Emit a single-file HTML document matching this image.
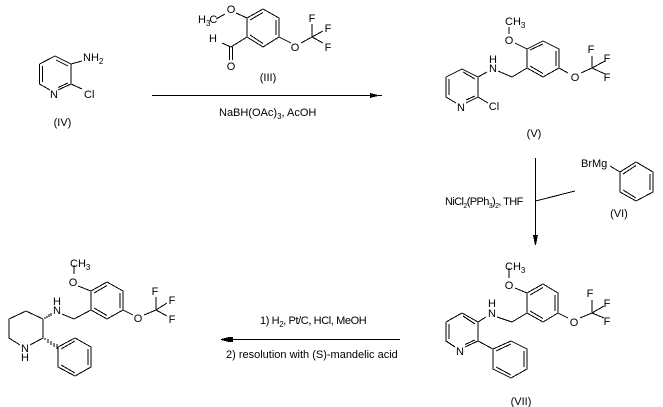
<!DOCTYPE html>
<html><head><meta charset="utf-8"><style>
html,body{margin:0;padding:0;background:#fff;width:663px;height:407px;overflow:hidden}
svg{display:block}
text{font-family:"Liberation Sans",Arial,sans-serif;font-size:11px;fill:#000}
.s{font-size:8px}
.n{letter-spacing:-.6px}
.m{letter-spacing:-.4px}
path{fill:none;stroke:#000;stroke-width:1;shape-rendering:crispEdges}
.h{fill:#000;stroke:none}
</style></head><body>
<svg width="663" height="407" viewBox="0 0 663 407" xmlns="http://www.w3.org/2000/svg">
<!-- IV -->
<path d="M39.5 64L55 56L71 64L71 84L58 90M50 90L39.5 84L39.5 64M42.5 66L42.5 82M56 60L68 66M68 83L58 87.5M71 64L82 61M71 84L82 89"/>
<text x="54" y="98" text-anchor="middle">N</text>
<text x="83" y="61">NH<tspan class="s" dy="3">2</tspan></text>
<text x="84" y="98">Cl</text>
<text x="62.500" y="126" text-anchor="middle">(IV)</text>
<!-- III -->
<path d="M247 18L263 9L279 18L279 37L263 47L247 37L247 18M250 20L263 12.500M276 20L276 35M250 35L263 43.500M236 13L247 18M225 14L216 19M247 37L231 47L222 43M229.500 47L229.500 60M232.500 47L232.500 60M279 37L291 43M301 43L312 37M312 37L312 24M312 37L323 31M312 37L323 43"/>
<text x="231" y="13" text-anchor="middle">O</text>
<text x="198" y="23">H<tspan class="s" dy="3">3</tspan><tspan dy="-3" dx="-1">C</tspan></text>
<text x="213" y="42" text-anchor="middle">H</text>
<text x="231" y="70" text-anchor="middle">O</text>
<text x="295" y="51" text-anchor="middle">O</text>
<text x="312" y="22" text-anchor="middle">F</text>
<text x="328" y="32" text-anchor="middle">F</text>
<text x="328" y="51" text-anchor="middle">F</text>
<text x="268" y="81" text-anchor="middle">(III)</text>
<!-- arrow 1 -->
<path d="M152 95.500L382 95.500"/>
<path class="h" d="M370 93L378 95L382 95.500L378 96L370 98Z"/>
<text x="219" y="116">NaBH(OAc)<tspan class="s" dy="3">3</tspan><tspan dy="-3">, AcOH</tspan></text>
<!-- V -->
<path d="M446 77L462 69L478 77L478 97L466 103M456 103L446 97L446 77M449 79L449 95M463 72L475 79M475 96L466 100M478 77L487 72M478 97L488 103M498 71L512 77L527 68L527 49L543 41L559 49L559 68L543 77L527 68M530 50L543 44M556 51L556 66M530 66L543 73.500M515 43L527 49M509 27L509 34M559 68L568 73M581 73L592 68M592 68L592 56M592 68L605 61M592 68L605 74"/>
<text x="461" y="111" text-anchor="middle">N</text>
<text x="493" y="72" text-anchor="middle">N</text>
<text x="493" y="63" text-anchor="middle">H</text>
<text x="494" y="110" text-anchor="middle">Cl</text>
<text x="509" y="44" text-anchor="middle">O</text>
<text x="505" y="25">CH<tspan class="s" dy="3">3</tspan></text>
<text x="575" y="81" text-anchor="middle">O</text>
<text x="591" y="53" text-anchor="middle">F</text>
<text x="607" y="62" text-anchor="middle">F</text>
<text x="607" y="81" text-anchor="middle">F</text>
<text x="534" y="137" text-anchor="middle">(V)</text>
<!-- arrow 2 -->
<path d="M535.500 158L535.500 245M535.500 201L575 191"/>
<path class="h" d="M533 235L538 235L536 245L535 245Z"/>
<text x="445" y="205" class="n">NiCl<tspan style="font-size:7px" dy="3">2</tspan><tspan dy="-3">(PPh</tspan><tspan style="font-size:7px" dy="3">3</tspan><tspan dy="-3">)</tspan><tspan style="font-size:7px" dy="3">2</tspan><tspan dy="-3">, THF</tspan></text>
<!-- VI -->
<path d="M610 166L620 172L636 162L653 172L653 192L636 201L620 192L620 172M623 174L636 165.500M650 174L650 190M623 190L636 198"/>
<text x="581" y="167">BrMg</text>
<text x="619" y="217" text-anchor="middle">(VI)</text>
<!-- VII -->
<path d="M446 322L462 313L478 322L478 341L465 347M455 347L446 341L446 322M449 324L449 339M463 316L475 324M475 340L465 344.500M478 322L486 317M497 317L512 322L527 313L527 293L543 284L558 293L558 313L543 322L527 313M530 295L543 287.500M555 295L555 311M530 311L543 318.500M515 288L527 293M509 268L509 278M558 313L568 318M580 318L592 313M592 313L592 300M592 313L604 306M592 313L604 318M478 341L493 349L511 341L527 349L527 369L511 378L493 369L493 349M496 351L511 344M524 351L524 367M496 367L511 375"/>
<text x="460" y="355" text-anchor="middle">N</text>
<text x="492" y="317" text-anchor="middle">N</text>
<text x="492" y="307" text-anchor="middle">H</text>
<text x="509" y="289" text-anchor="middle">O</text>
<text x="505" y="270">CH<tspan class="s" dy="3">3</tspan></text>
<text x="574" y="326" text-anchor="middle">O</text>
<text x="590" y="297" text-anchor="middle">F</text>
<text x="607" y="307" text-anchor="middle">F</text>
<text x="607" y="325" text-anchor="middle">F</text>
<text x="521" y="405" text-anchor="middle">(VII)</text>
<!-- arrow 3 -->
<path d="M221 339.500L400 339.500"/>
<path class="h" d="M221 339L229 337L233 337L233 342L229 342L221 340Z"/>
<text x="260" y="324" class="m">1) H<tspan class="s" dy="3">2</tspan><tspan dy="-3">, Pt/C, HCl, MeOH</tspan></text>
<text x="226" y="358">2) resolution with (S)-mandelic acid</text>
<!-- product -->
<path d="M43 319L26 311L9 319L9 338L20 345M30 345L43 338L43 319M62 314L74 319L91 310L91 291L107 282L123 291L123 310L107 319L91 310M94 293L107 285.500M120 293L120 308M94 308L107 315.500M78 286L91 291M74 265L74 274M123 310L133 315M144 315L156 310M156 310L156 297M156 310L167 303M156 310L167 316M58 347L75 338L91 347L91 367L75 376L58 367L58 347M61 349L75 341M88 349L88 365M61 365L75 373"/>
<path d="M45 319L45 317M47 318L47 316M49 317L49 314M51 316L51 313" />
<path d="M45 338L45 340M48 339L48 343M51 341L51 345M54 343L54 347M57 344L57 349" />
<text x="25" y="352" text-anchor="middle">N</text>
<text x="25" y="361" text-anchor="middle">H</text>
<text x="57" y="314" text-anchor="middle">N</text>
<text x="57" y="305" text-anchor="middle">H</text>
<text x="73" y="286" text-anchor="middle">O</text>
<text x="70" y="267">CH<tspan class="s" dy="3">3</tspan></text>
<text x="138" y="322" text-anchor="middle">O</text>
<text x="155" y="295" text-anchor="middle">F</text>
<text x="172" y="304" text-anchor="middle">F</text>
<text x="172" y="323" text-anchor="middle">F</text>
</svg>
</body></html>
